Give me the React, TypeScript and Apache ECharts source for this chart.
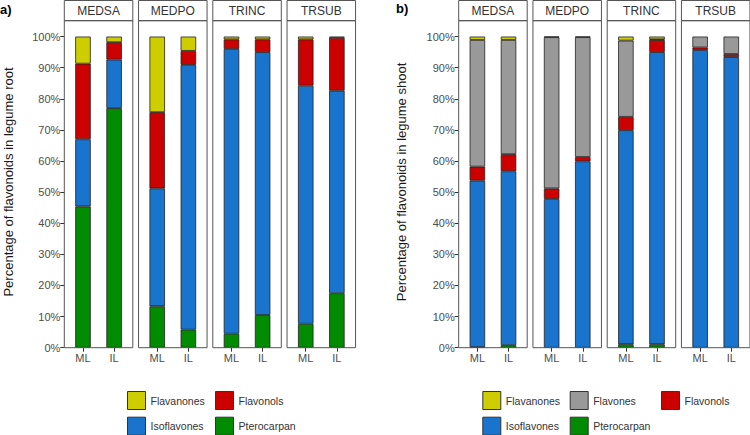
import React, { useEffect, useRef } from "react";
import * as echarts from "echarts";

const facets = ["MEDSA", "MEDPO", "TRINC", "TRSUB"];
const xCats = ["ML", "IL"];
const yTicks = [0, 10, 20, 30, 40, 50, 60, 70, 80, 90, 100];

// values per facet, ML then IL (percent)
const rootPterocarpan = [45.4, 77.0, 13.3, 5.8, 4.5, 10.5, 7.7, 17.5];
const rootIsoflavones = [21.6, 15.6, 37.9, 85.1, 91.5, 84.5, 76.5, 65.1];
const rootFlavonols = [24.3, 5.6, 24.5, 4.5, 3.1, 4.1, 14.9, 17.0];
const rootFlavanones = [8.7, 1.8, 24.3, 4.6, 0.9, 0.9, 0.9, 0.4];

const shootPterocarpan = [0.2, 0.8, 0, 0, 1.1, 1.1, 0, 0];
const shootIsoflavones = [53.5, 55.9, 47.8, 59.9, 68.8, 93.9, 95.7, 93.4];
const shootFlavonols = [4.5, 5.5, 3.4, 1.4, 4.3, 3.9, 0.8, 1.0];
const shootFlavones = [40.7, 36.7, 48.6, 38.5, 24.5, 0.2, 3.5, 5.6];
const shootFlavanones = [1.1, 1.1, 0.2, 0.2, 1.3, 0.9, 0, 0];

const COLORS: Record<string, string> = {
  Flavanones: "#CDCD00",
  Flavones: "#999999",
  Flavonols: "#CD0000",
  Isoflavones: "#1874CD",
  Pterocarpan: "#008B00",
};

const rootSeries: [string, number[]][] = [
  ["Pterocarpan", rootPterocarpan],
  ["Isoflavones", rootIsoflavones],
  ["Flavonols", rootFlavonols],
  ["Flavanones", rootFlavanones],
];
const shootSeries: [string, number[]][] = [
  ["Pterocarpan", shootPterocarpan],
  ["Isoflavones", shootIsoflavones],
  ["Flavonols", shootFlavonols],
  ["Flavones", shootFlavones],
  ["Flavanones", shootFlavanones],
];

const legendA: [string, number, number][] = [
  ["Flavanones", 127, 391],
  ["Isoflavones", 127, 416.7],
  ["Flavonols", 215, 391],
  ["Pterocarpan", 215, 416.7],
];
const legendB: [string, number, number][] = [
  ["Flavanones", 482.3, 391],
  ["Isoflavones", 482.3, 416.7],
  ["Flavones", 569.7, 391],
  ["Pterocarpan", 569.7, 416.7],
  ["Flavonols", 661, 391],
];

const FONT = "Liberation Sans, Arial, sans-serif";

export default function App() {
  const ref = useRef<HTMLDivElement>(null);
  useEffect(() => {
    if (!ref.current) return;
    const chart = echarts.init(ref.current, null, { renderer: "svg" });

    const GRID_TOP = 20.7;
    const GRID_H = 327;
    const PW = 68.5;
    const STEP = 74.25;
    // ggplot discrete expansion: centres at 0.6/2.2 and 1.6/2.2 of panel
    const c1 = (0.6 / 2.2) * PW;
    const innerW = 2 * ((1.6 / 2.2) * PW - c1);
    const inset = c1 - innerW / 4;
    const panelLeft = [64.3, 458.7];

    const grids: any[] = [];
    const xAxes: any[] = [];
    const yAxes: any[] = [];
    const series: any[] = [];
    const graphics: any[] = [];

    const panels = [rootSeries, shootSeries];
    panels.forEach((pSeries, p) => {
      facets.forEach((f, fi) => {
        const idx = p * 4 + fi;
        const left = panelLeft[p] + fi * STEP;
        grids.push({
          left: left + inset,
          top: GRID_TOP,
          width: innerW,
          height: GRID_H,
        });
        xAxes.push({
          type: "category",
          gridIndex: idx,
          data: xCats,
          boundaryGap: true,
          axisLine: { show: false },
          splitLine: { show: false },
          axisTick: {
            show: true,
            alignWithLabel: true,
            length: 4,
            lineStyle: { color: "#333" },
          },
          axisLabel: {
            show: true,
            color: "#4D4D4D",
            fontSize: 11,
            fontFamily: FONT,
            margin: 5,
          },
        });
        yAxes.push({
          type: "value",
          gridIndex: idx,
          min: 0,
          max: 105.1,
          offset: inset,
          axisLine: { show: false },
          splitLine: { show: false },
          axisTick: {
            show: fi === 0,
            customValues: yTicks,
            length: 4,
            lineStyle: { color: "#333" },
          },
          axisLabel: {
            show: fi === 0,
            customValues: yTicks,
            formatter: (v: number) => `${v}%`,
            color: "#4D4D4D",
            fontSize: 11,
            fontFamily: FONT,
            margin: 4,
          },
        });
        pSeries.forEach(([name, vals]) => {
          series.push({
            type: "bar",
            name,
            xAxisIndex: idx,
            yAxisIndex: idx,
            stack: "s" + idx,
            barWidth: 15.5,
            itemStyle: {
              color: COLORS[name],
              borderColor: "#222",
              borderWidth: 0.8,
            },
            data: xCats.map((_, ci) => {
              const v = vals[fi * 2 + ci];
              return v > 0
                ? { value: v }
                : { value: 0, itemStyle: { borderWidth: 0, opacity: 0 } };
            }),
          });
        });
        graphics.push({
          type: "rect",
          z: 10,
          shape: { x: left, y: GRID_TOP, width: PW, height: GRID_H },
          style: { fill: "none", stroke: "#555", lineWidth: 1 },
        });
        graphics.push({
          type: "rect",
          shape: { x: left, y: 0.5, width: PW, height: GRID_TOP - 0.5 },
          style: { fill: "#fff", stroke: "#555", lineWidth: 1 },
        });
        graphics.push({
          type: "text",
          x: left + PW / 2,
          y: GRID_TOP / 2 + 0.8,
          style: {
            text: f,
            align: "center",
            verticalAlign: "middle",
            fill: "#333",
            font: `12px ${FONT}`,
          },
        });
      });
    });

    graphics.push(
      {
        type: "text",
        x: 0,
        y: 9,
        style: { text: "a)", verticalAlign: "middle", fill: "#000", font: `bold 13px ${FONT}` },
      },
      {
        type: "text",
        x: 396,
        y: 8,
        style: { text: "b)", verticalAlign: "middle", fill: "#000", font: `bold 13px ${FONT}` },
      },
      {
        type: "text",
        x: 8,
        y: 182,
        rotation: Math.PI / 2,
        style: {
          text: "Percentage of flavonoids in legume root",
          align: "center",
          verticalAlign: "middle",
          fill: "#1a1a1a",
          font: `13px ${FONT}`,
        },
      },
      {
        type: "text",
        x: 401,
        y: 182,
        rotation: Math.PI / 2,
        style: {
          text: "Percentage of flavonoids in legume shoot",
          align: "center",
          verticalAlign: "middle",
          fill: "#1a1a1a",
          font: `13px ${FONT}`,
        },
      }
    );

    const legends = [...legendA, ...legendB].map(([name, x, y]) => ({
      orient: "horizontal",
      left: x,
      top: y,
      itemWidth: 18,
      itemHeight: 18,
      icon: "rect",
      padding: 0,
      selectedMode: false,
      textStyle: { fontSize: 10.5, color: "#333", fontFamily: FONT },
      itemStyle: { borderColor: "#333", borderWidth: 1 },
      data: [name],
    }));

    chart.setOption({
      animation: false,
      backgroundColor: "#fff",
      textStyle: { fontFamily: FONT },
      grid: grids,
      xAxis: xAxes,
      yAxis: yAxes,
      series,
      legend: legends,
      graphic: graphics,
    });
    return () => chart.dispose();
  }, []);
  return (
    <div
      ref={ref}
      style={{ position: "fixed", left: 0, top: 0, width: 750, height: 435 }}
    />
  );
}
